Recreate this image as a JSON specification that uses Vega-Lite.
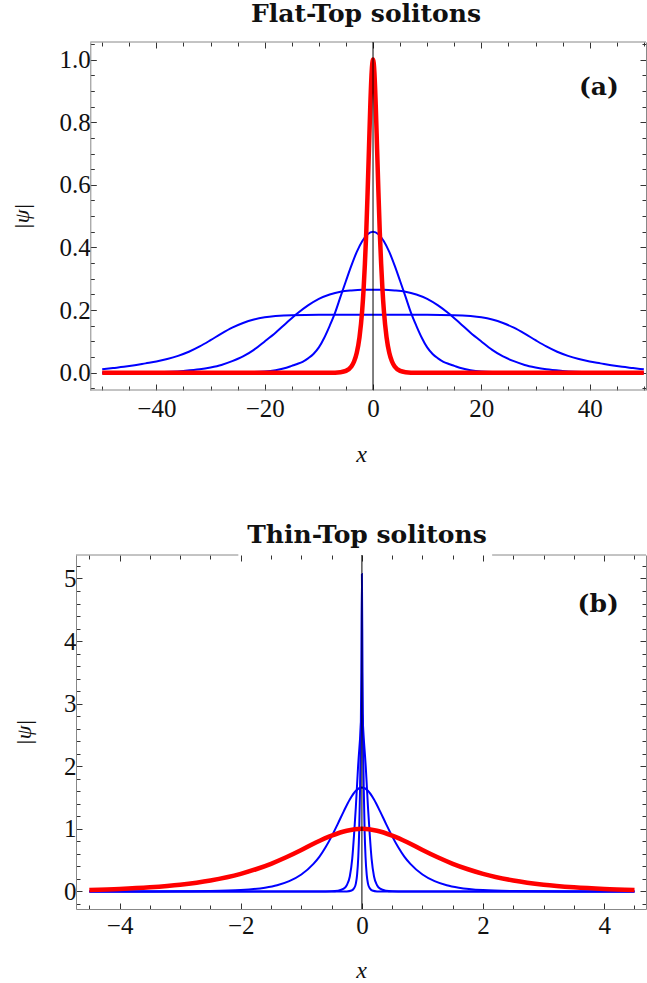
{
  "$schema": "https://vega.github.io/schema/vega-lite/v6.json",
  "background": "white",
  "padding": {"left": 10, "top": 1, "right": 0, "bottom": 6},
  "config": {
    "view": {"stroke": "#888888", "strokeWidth": 1},
    "axis": {
      "grid": false,
      "domainColor": "#888888",
      "domainWidth": 1,
      "tickColor": "#333333",
      "tickWidth": 1,
      "labelFont": "Liberation Serif",
      "labelFontSize": 25,
      "labelColor": "#111111",
      "labelFlush": false,
      "labelOverlap": false,
      "titleFont": "Liberation Serif",
      "titleFontStyle": "italic",
      "titleFontWeight": "normal",
      "titleFontSize": 24,
      "titleColor": "#111111"
    }
  },
  "datasets": {
    "top": [
      {"c": "b1", "x": -50, "y": 0}, {"c": "b1", "x": -40, "y": 0}, {"c": "b1", "x": -30, "y": 0.0002}, {"c": "b1", "x": -25, "y": 0.001},
      {"c": "b1", "x": -20, "y": 0.004}, {"c": "b1", "x": -18, "y": 0.008}, {"c": "b1", "x": -16, "y": 0.016}, {"c": "b1", "x": -15, "y": 0.022},
      {"c": "b1", "x": -14, "y": 0.028}, {"c": "b1", "x": -13, "y": 0.035}, {"c": "b1", "x": -12, "y": 0.046}, {"c": "b1", "x": -11, "y": 0.06},
      {"c": "b1", "x": -10, "y": 0.081}, {"c": "b1", "x": -9, "y": 0.112}, {"c": "b1", "x": -8, "y": 0.15}, {"c": "b1", "x": -7, "y": 0.192},
      {"c": "b1", "x": -6, "y": 0.243}, {"c": "b1", "x": -5, "y": 0.293}, {"c": "b1", "x": -4, "y": 0.342}, {"c": "b1", "x": -3, "y": 0.386},
      {"c": "b1", "x": -2, "y": 0.42}, {"c": "b1", "x": -1, "y": 0.442}, {"c": "b1", "x": 0, "y": 0.45}, {"c": "b1", "x": 1, "y": 0.442},
      {"c": "b1", "x": 2, "y": 0.42}, {"c": "b1", "x": 3, "y": 0.386}, {"c": "b1", "x": 4, "y": 0.342}, {"c": "b1", "x": 5, "y": 0.293},
      {"c": "b1", "x": 6, "y": 0.243}, {"c": "b1", "x": 7, "y": 0.192}, {"c": "b1", "x": 8, "y": 0.15}, {"c": "b1", "x": 9, "y": 0.112},
      {"c": "b1", "x": 10, "y": 0.081}, {"c": "b1", "x": 11, "y": 0.06}, {"c": "b1", "x": 12, "y": 0.046}, {"c": "b1", "x": 13, "y": 0.035},
      {"c": "b1", "x": 14, "y": 0.028}, {"c": "b1", "x": 15, "y": 0.022}, {"c": "b1", "x": 16, "y": 0.016}, {"c": "b1", "x": 18, "y": 0.008},
      {"c": "b1", "x": 20, "y": 0.004}, {"c": "b1", "x": 25, "y": 0.001}, {"c": "b1", "x": 30, "y": 0.0002}, {"c": "b1", "x": 40, "y": 0}, {"c": "b1", "x": 50, "y": 0},

      {"c": "b2", "x": -50, "y": 0}, {"c": "b2", "x": -45, "y": 0.001}, {"c": "b2", "x": -40, "y": 0.002}, {"c": "b2", "x": -35, "y": 0.006},
      {"c": "b2", "x": -32, "y": 0.011}, {"c": "b2", "x": -30, "y": 0.017}, {"c": "b2", "x": -28, "y": 0.025}, {"c": "b2", "x": -26, "y": 0.037},
      {"c": "b2", "x": -24, "y": 0.052}, {"c": "b2", "x": -22, "y": 0.073}, {"c": "b2", "x": -20, "y": 0.1}, {"c": "b2", "x": -18, "y": 0.128},
      {"c": "b2", "x": -16, "y": 0.159}, {"c": "b2", "x": -14, "y": 0.189}, {"c": "b2", "x": -12, "y": 0.215}, {"c": "b2", "x": -10, "y": 0.236},
      {"c": "b2", "x": -8, "y": 0.25}, {"c": "b2", "x": -6, "y": 0.259}, {"c": "b2", "x": -4, "y": 0.263}, {"c": "b2", "x": -2, "y": 0.265},
      {"c": "b2", "x": 0, "y": 0.265}, {"c": "b2", "x": 2, "y": 0.265}, {"c": "b2", "x": 4, "y": 0.263}, {"c": "b2", "x": 6, "y": 0.259},
      {"c": "b2", "x": 8, "y": 0.25}, {"c": "b2", "x": 10, "y": 0.236}, {"c": "b2", "x": 12, "y": 0.215}, {"c": "b2", "x": 14, "y": 0.189},
      {"c": "b2", "x": 16, "y": 0.159}, {"c": "b2", "x": 18, "y": 0.128}, {"c": "b2", "x": 20, "y": 0.1}, {"c": "b2", "x": 22, "y": 0.073},
      {"c": "b2", "x": 24, "y": 0.052}, {"c": "b2", "x": 26, "y": 0.037}, {"c": "b2", "x": 28, "y": 0.025}, {"c": "b2", "x": 30, "y": 0.017},
      {"c": "b2", "x": 32, "y": 0.011}, {"c": "b2", "x": 35, "y": 0.006}, {"c": "b2", "x": 40, "y": 0.002}, {"c": "b2", "x": 45, "y": 0.001}, {"c": "b2", "x": 50, "y": 0},

      {"c": "b3", "x": -50, "y": 0.011}, {"c": "b3", "x": -48, "y": 0.015}, {"c": "b3", "x": -46, "y": 0.019}, {"c": "b3", "x": -44, "y": 0.024},
      {"c": "b3", "x": -42, "y": 0.03}, {"c": "b3", "x": -40, "y": 0.036}, {"c": "b3", "x": -38, "y": 0.044}, {"c": "b3", "x": -36, "y": 0.054},
      {"c": "b3", "x": -34, "y": 0.067}, {"c": "b3", "x": -32, "y": 0.084}, {"c": "b3", "x": -30, "y": 0.104}, {"c": "b3", "x": -28, "y": 0.125},
      {"c": "b3", "x": -26, "y": 0.144}, {"c": "b3", "x": -24, "y": 0.159}, {"c": "b3", "x": -22, "y": 0.17}, {"c": "b3", "x": -20, "y": 0.177},
      {"c": "b3", "x": -18, "y": 0.181}, {"c": "b3", "x": -15, "y": 0.184}, {"c": "b3", "x": -10, "y": 0.185}, {"c": "b3", "x": -5, "y": 0.185},
      {"c": "b3", "x": 0, "y": 0.185}, {"c": "b3", "x": 5, "y": 0.185}, {"c": "b3", "x": 10, "y": 0.185}, {"c": "b3", "x": 15, "y": 0.184},
      {"c": "b3", "x": 18, "y": 0.181}, {"c": "b3", "x": 20, "y": 0.177}, {"c": "b3", "x": 22, "y": 0.17}, {"c": "b3", "x": 24, "y": 0.159},
      {"c": "b3", "x": 26, "y": 0.144}, {"c": "b3", "x": 28, "y": 0.125}, {"c": "b3", "x": 30, "y": 0.104}, {"c": "b3", "x": 32, "y": 0.084},
      {"c": "b3", "x": 34, "y": 0.067}, {"c": "b3", "x": 36, "y": 0.054}, {"c": "b3", "x": 38, "y": 0.044}, {"c": "b3", "x": 40, "y": 0.036},
      {"c": "b3", "x": 42, "y": 0.03}, {"c": "b3", "x": 44, "y": 0.024}, {"c": "b3", "x": 46, "y": 0.019}, {"c": "b3", "x": 48, "y": 0.015}, {"c": "b3", "x": 50, "y": 0.011},

      {"c": "r", "x": -50, "y": 0}, {"c": "r", "x": -40, "y": 0}, {"c": "r", "x": -30, "y": 0}, {"c": "r", "x": -20, "y": 0},
      {"c": "r", "x": -10, "y": 0}, {"c": "r", "x": -8, "y": 0}, {"c": "r", "x": -6, "y": 0.002}, {"c": "r", "x": -5, "y": 0.006},
      {"c": "r", "x": -4, "y": 0.02}, {"c": "r", "x": -3.5, "y": 0.036}, {"c": "r", "x": -3, "y": 0.064}, {"c": "r", "x": -2.5, "y": 0.113},
      {"c": "r", "x": -2, "y": 0.199}, {"c": "r", "x": -1.75, "y": 0.264}, {"c": "r", "x": -1.5, "y": 0.348}, {"c": "r", "x": -1.25, "y": 0.448},
      {"c": "r", "x": -1, "y": 0.576}, {"c": "r", "x": -0.75, "y": 0.715}, {"c": "r", "x": -0.5, "y": 0.855}, {"c": "r", "x": -0.25, "y": 0.96},
      {"c": "r", "x": 0, "y": 1}, {"c": "r", "x": 0.25, "y": 0.96}, {"c": "r", "x": 0.5, "y": 0.855}, {"c": "r", "x": 0.75, "y": 0.715},
      {"c": "r", "x": 1, "y": 0.576}, {"c": "r", "x": 1.25, "y": 0.448}, {"c": "r", "x": 1.5, "y": 0.348}, {"c": "r", "x": 1.75, "y": 0.264},
      {"c": "r", "x": 2, "y": 0.199}, {"c": "r", "x": 2.5, "y": 0.113}, {"c": "r", "x": 3, "y": 0.064}, {"c": "r", "x": 3.5, "y": 0.036},
      {"c": "r", "x": 4, "y": 0.02}, {"c": "r", "x": 5, "y": 0.006}, {"c": "r", "x": 6, "y": 0.002}, {"c": "r", "x": 8, "y": 0},
      {"c": "r", "x": 10, "y": 0}, {"c": "r", "x": 20, "y": 0}, {"c": "r", "x": 30, "y": 0}, {"c": "r", "x": 40, "y": 0}, {"c": "r", "x": 50, "y": 0}
    ],
    "bottom": [
      {"c": "A", "x": -4.5, "y": 0}, {"c": "A", "x": -4, "y": 0}, {"c": "A", "x": -3, "y": 0.002}, {"c": "A", "x": -2.5, "y": 0.006},
      {"c": "A", "x": -2, "y": 0.022}, {"c": "A", "x": -1.6, "y": 0.061}, {"c": "A", "x": -1.4, "y": 0.1}, {"c": "A", "x": -1.2, "y": 0.165},
      {"c": "A", "x": -1, "y": 0.271}, {"c": "A", "x": -0.8, "y": 0.441}, {"c": "A", "x": -0.7, "y": 0.557}, {"c": "A", "x": -0.6, "y": 0.706},
      {"c": "A", "x": -0.5, "y": 0.88}, {"c": "A", "x": -0.4, "y": 1.076}, {"c": "A", "x": -0.3, "y": 1.28}, {"c": "A", "x": -0.2, "y": 1.47},
      {"c": "A", "x": -0.1, "y": 1.61}, {"c": "A", "x": 0, "y": 1.66}, {"c": "A", "x": 0.1, "y": 1.61}, {"c": "A", "x": 0.2, "y": 1.47},
      {"c": "A", "x": 0.3, "y": 1.28}, {"c": "A", "x": 0.4, "y": 1.076}, {"c": "A", "x": 0.5, "y": 0.88}, {"c": "A", "x": 0.6, "y": 0.706},
      {"c": "A", "x": 0.7, "y": 0.557}, {"c": "A", "x": 0.8, "y": 0.441}, {"c": "A", "x": 1, "y": 0.271}, {"c": "A", "x": 1.2, "y": 0.165},
      {"c": "A", "x": 1.4, "y": 0.1}, {"c": "A", "x": 1.6, "y": 0.061}, {"c": "A", "x": 2, "y": 0.022}, {"c": "A", "x": 2.5, "y": 0.006},
      {"c": "A", "x": 3, "y": 0.002}, {"c": "A", "x": 4, "y": 0}, {"c": "A", "x": 4.5, "y": 0},

      {"c": "B", "x": -4.5, "y": 0}, {"c": "B", "x": -3, "y": 0}, {"c": "B", "x": -2, "y": 0}, {"c": "B", "x": -1, "y": 0},
      {"c": "B", "x": -0.7, "y": 0}, {"c": "B", "x": -0.5, "y": 0.003}, {"c": "B", "x": -0.4, "y": 0.012}, {"c": "B", "x": -0.3, "y": 0.045},
      {"c": "B", "x": -0.25, "y": 0.1}, {"c": "B", "x": -0.2, "y": 0.24}, {"c": "B", "x": -0.16, "y": 0.52}, {"c": "B", "x": -0.13, "y": 0.9},
      {"c": "B", "x": -0.1, "y": 1.35}, {"c": "B", "x": -0.063, "y": 2.0}, {"c": "B", "x": -0.03, "y": 2.45}, {"c": "B", "x": 0, "y": 2.88},
      {"c": "B", "x": 0.03, "y": 2.45}, {"c": "B", "x": 0.063, "y": 2.0}, {"c": "B", "x": 0.1, "y": 1.35}, {"c": "B", "x": 0.13, "y": 0.9},
      {"c": "B", "x": 0.16, "y": 0.52}, {"c": "B", "x": 0.2, "y": 0.24}, {"c": "B", "x": 0.25, "y": 0.1}, {"c": "B", "x": 0.3, "y": 0.045},
      {"c": "B", "x": 0.4, "y": 0.012}, {"c": "B", "x": 0.5, "y": 0.003}, {"c": "B", "x": 0.7, "y": 0}, {"c": "B", "x": 1, "y": 0},
      {"c": "B", "x": 2, "y": 0}, {"c": "B", "x": 3, "y": 0}, {"c": "B", "x": 4.5, "y": 0},

      {"c": "C", "x": -4.5, "y": 0}, {"c": "C", "x": -3, "y": 0}, {"c": "C", "x": -2, "y": 0}, {"c": "C", "x": -1, "y": 0},
      {"c": "C", "x": -0.5, "y": 0}, {"c": "C", "x": -0.25, "y": 0.001}, {"c": "C", "x": -0.17, "y": 0.015}, {"c": "C", "x": -0.13, "y": 0.05},
      {"c": "C", "x": -0.1, "y": 0.126}, {"c": "C", "x": -0.08, "y": 0.26}, {"c": "C", "x": -0.06, "y": 0.55}, {"c": "C", "x": -0.045, "y": 0.96},
      {"c": "C", "x": -0.03, "y": 1.67}, {"c": "C", "x": -0.02, "y": 2.41}, {"c": "C", "x": -0.01, "y": 3.5}, {"c": "C", "x": 0, "y": 5.07},
      {"c": "C", "x": 0.01, "y": 3.5}, {"c": "C", "x": 0.02, "y": 2.41}, {"c": "C", "x": 0.03, "y": 1.67}, {"c": "C", "x": 0.045, "y": 0.96},
      {"c": "C", "x": 0.06, "y": 0.55}, {"c": "C", "x": 0.08, "y": 0.26}, {"c": "C", "x": 0.1, "y": 0.126}, {"c": "C", "x": 0.13, "y": 0.05},
      {"c": "C", "x": 0.17, "y": 0.015}, {"c": "C", "x": 0.25, "y": 0.001}, {"c": "C", "x": 0.5, "y": 0}, {"c": "C", "x": 1, "y": 0},
      {"c": "C", "x": 2, "y": 0}, {"c": "C", "x": 3, "y": 0}, {"c": "C", "x": 4.5, "y": 0},

      {"c": "r", "x": -4.5, "y": 0.025}, {"c": "r", "x": -4, "y": 0.041}, {"c": "r", "x": -3.5, "y": 0.067}, {"c": "r", "x": -3, "y": 0.108},
      {"c": "r", "x": -2.5, "y": 0.176}, {"c": "r", "x": -2, "y": 0.282}, {"c": "r", "x": -1.75, "y": 0.355}, {"c": "r", "x": -1.5, "y": 0.442},
      {"c": "r", "x": -1.25, "y": 0.546}, {"c": "r", "x": -1, "y": 0.662}, {"c": "r", "x": -0.75, "y": 0.787}, {"c": "r", "x": -0.5, "y": 0.893},
      {"c": "r", "x": -0.25, "y": 0.971}, {"c": "r", "x": 0, "y": 1}, {"c": "r", "x": 0.25, "y": 0.971}, {"c": "r", "x": 0.5, "y": 0.893},
      {"c": "r", "x": 0.75, "y": 0.787}, {"c": "r", "x": 1, "y": 0.662}, {"c": "r", "x": 1.25, "y": 0.546}, {"c": "r", "x": 1.5, "y": 0.442},
      {"c": "r", "x": 1.75, "y": 0.355}, {"c": "r", "x": 2, "y": 0.282}, {"c": "r", "x": 2.5, "y": 0.176}, {"c": "r", "x": 3, "y": 0.108},
      {"c": "r", "x": 3.5, "y": 0.067}, {"c": "r", "x": 4, "y": 0.041}, {"c": "r", "x": 4.5, "y": 0.025}
    ]
  },
  "vconcat": [
    {
      "width": 570,
      "height": 348,
      "view": {"stroke": null},
      "title": {"text": "Flat-Top solitons", "font": "DejaVu Serif", "fontSize": 25, "fontWeight": "bold", "color": "#111111", "frame": "group", "anchor": "middle", "offset": 5, "dx": 5},
      "data": {"name": "top"},
      "layer": [
        {
          "transform": [{"filter": "datum.c !== 'r'"}],
          "mark": {"type": "line", "color": "#0000ff", "strokeWidth": 2, "interpolate": "monotone", "clip": true},
          "encoding": {
            "x": {"field": "x", "type": "quantitative", "scale": {"domain": [-54.84, 50.4], "nice": false, "zero": false},
              "axis": {"orient": "bottom", "title": "x", "titlePadding": 19, "domain": false,
                "values": [-50, -45, -40, -35, -30, -25, -20, -15, -10, -5, 0, 5, 10, 15, 20, 25, 30, 35, 40, 45, 50],
                "labelExpr": "round(datum.value) % 20 === 0 ? format(datum.value, 'd') : ''",
                "tickSize": {"condition": {"test": "round(datum.value) % 20 === 0", "value": -6}, "value": -4},
                "labelPadding": 12}},
            "y": {"field": "y", "type": "quantitative", "scale": {"domain": [-0.055, 1.056], "nice": false, "zero": false},
              "axis": {"orient": "left", "offset": -14.3, "title": "|ψ|", "titleFontSize": 22, "titlePadding": 26,
                "values": [-0.05, 0, 0.05, 0.1, 0.15, 0.2, 0.25, 0.3, 0.35, 0.4, 0.45, 0.5, 0.55, 0.6, 0.65, 0.7, 0.75, 0.8, 0.85, 0.9, 0.95, 1, 1.05],
                "labelExpr": "round(datum.value * 100) % 20 === 0 ? format(datum.value, '.1f') : ''",
                "tickSize": {"condition": {"test": "round(datum.value * 100) % 20 === 0", "value": -6}, "value": -4},
                "labelPadding": 6}},
            "detail": {"field": "c"}
          }
        },
        {
          "transform": [{"filter": "datum.c === 'r'"}],
          "mark": {"type": "line", "color": "#ff0000", "strokeWidth": 4.5, "interpolate": "monotone", "clip": true},
          "encoding": {
            "x": {"field": "x", "type": "quantitative", "scale": {"domain": [-54.84, 50.4], "nice": false, "zero": false},
              "axis": {"orient": "top", "title": null, "labels": false, "domain": false,
                "values": [-50, -45, -40, -35, -30, -25, -20, -15, -10, -5, 0, 5, 10, 15, 20, 25, 30, 35, 40, 45, 50],
                "tickSize": {"condition": {"test": "round(datum.value) % 20 === 0", "value": -6}, "value": -4}}},
            "y": {"field": "y", "type": "quantitative", "scale": {"domain": [-0.055, 1.056], "nice": false, "zero": false},
              "axis": {"orient": "right", "title": null, "labels": false,
                "values": [-0.05, 0, 0.05, 0.1, 0.15, 0.2, 0.25, 0.3, 0.35, 0.4, 0.45, 0.5, 0.55, 0.6, 0.65, 0.7, 0.75, 0.8, 0.85, 0.9, 0.95, 1, 1.05],
                "tickSize": {"condition": {"test": "round(datum.value * 100) % 20 === 0", "value": -6}, "value": -4}}}
          }
        },
        {
          "data": {"values": [{"x1": -52.2, "x2": 50.4, "yv": -0.055}, {"x1": -52.2, "x2": 50.4, "yv": 1.056}]},
          "mark": {"type": "rule", "color": "#888888", "strokeWidth": 1},
          "encoding": {
            "x": {"field": "x1", "type": "quantitative", "axis": null},
            "x2": {"field": "x2"},
            "y": {"field": "yv", "type": "quantitative", "axis": null}
          }
        },
        {
          "data": {"values": [{"x0": 0}]},
          "mark": {"type": "rule", "color": "#000000", "strokeWidth": 1},
          "encoding": {"x": {"field": "x0", "type": "quantitative", "axis": null}}
        },
        {
          "data": {"values": [{"lbl": "(a)", "x": 41.7, "y": 0.913}]},
          "mark": {"type": "text", "font": "DejaVu Serif", "fontWeight": "bold", "fontSize": 25, "color": "#111111", "align": "center", "baseline": "middle"},
          "encoding": {
            "x": {"field": "x", "type": "quantitative", "axis": null},
            "y": {"field": "y", "type": "quantitative", "axis": null},
            "text": {"field": "lbl"}
          }
        }
      ],
      "resolve": {"axis": {"x": "independent", "y": "independent"}}
    },
    {
      "width": 570,
      "height": 354,
      "view": {"stroke": null},
      "title": {"text": "Thin-Top solitons", "font": "DejaVu Serif", "fontSize": 25, "fontWeight": "bold", "color": "#111111", "frame": "group", "anchor": "middle", "offset": 6, "dx": 6},
      "data": {"name": "bottom"},
      "layer": [
        {
          "transform": [{"filter": "datum.c !== 'r'"}],
          "mark": {"type": "line", "color": "#0000ff", "strokeWidth": 2, "interpolate": "monotone", "clip": true},
          "encoding": {
            "x": {"field": "x", "type": "quantitative", "scale": {"domain": [-4.72, 4.69], "nice": false, "zero": false},
              "axis": {"orient": "bottom", "title": "x", "titlePadding": 18,
                "values": [-4.5, -4, -3.5, -3, -2.5, -2, -1.5, -1, -0.5, 0, 0.5, 1, 1.5, 2, 2.5, 3, 3.5, 4, 4.5],
                "labelExpr": "round(datum.value * 10) % 20 === 0 ? format(datum.value, 'd') : ''",
                "tickSize": {"condition": {"test": "round(datum.value * 10) % 20 === 0", "value": -6}, "value": -4},
                "labelPadding": 10}},
            "y": {"field": "y", "type": "quantitative", "scale": {"domain": [-0.28, 5.375], "nice": false, "zero": false},
              "axis": {"orient": "left", "title": "|ψ|", "titleFontSize": 22, "titlePadding": 28,
                "values": [-0.2, 0, 0.2, 0.4, 0.6, 0.8, 1, 1.2, 1.4, 1.6, 1.8, 2, 2.2, 2.4, 2.6, 2.8, 3, 3.2, 3.4, 3.6, 3.8, 4, 4.2, 4.4, 4.6, 4.8, 5, 5.2],
                "labelExpr": "round(datum.value * 10) % 10 === 0 ? format(datum.value, 'd') : ''",
                "tickSize": {"condition": {"test": "round(datum.value * 10) % 10 === 0", "value": -6}, "value": -4},
                "labelPadding": 6}},
            "detail": {"field": "c"}
          }
        },
        {
          "transform": [{"filter": "datum.c === 'r'"}],
          "mark": {"type": "line", "color": "#ff0000", "strokeWidth": 4.5, "interpolate": "monotone", "clip": true},
          "encoding": {
            "x": {"field": "x", "type": "quantitative", "scale": {"domain": [-4.72, 4.69], "nice": false, "zero": false},
              "axis": {"orient": "top", "title": null, "labels": false, "domain": false,
                "values": [-4.5, -4, -3.5, -3, -2.5, -2, -1.5, -1, -0.5, 0, 0.5, 1, 1.5, 2, 2.5, 3, 3.5, 4, 4.5],
                "tickSize": {"condition": {"test": "round(datum.value * 10) % 20 === 0", "value": -6}, "value": -4}}},
            "y": {"field": "y", "type": "quantitative", "scale": {"domain": [-0.28, 5.375], "nice": false, "zero": false},
              "axis": {"orient": "right", "title": null, "labels": false,
                "values": [-0.2, 0, 0.2, 0.4, 0.6, 0.8, 1, 1.2, 1.4, 1.6, 1.8, 2, 2.2, 2.4, 2.6, 2.8, 3, 3.2, 3.4, 3.6, 3.8, 4, 4.2, 4.4, 4.6, 4.8, 5, 5.2],
                "tickSize": {"condition": {"test": "round(datum.value * 10) % 10 === 0", "value": -6}, "value": -4}}}
          }
        },
        {
          "data": {"values": [{"x1": -4.72, "x2": -2.04, "yv": 5.375}, {"x1": 2.15, "x2": 4.69, "yv": 5.375}]},
          "mark": {"type": "rule", "color": "#888888", "strokeWidth": 1},
          "encoding": {
            "x": {"field": "x1", "type": "quantitative", "axis": null},
            "x2": {"field": "x2"},
            "y": {"field": "yv", "type": "quantitative", "axis": null}
          }
        },
        {
          "data": {"values": [{"x0": 0}]},
          "mark": {"type": "rule", "color": "#000000", "strokeWidth": 1},
          "encoding": {"x": {"field": "x0", "type": "quantitative", "axis": null}}
        },
        {
          "data": {"values": [{"lbl": "(b)", "x": 3.9, "y": 4.6}]},
          "mark": {"type": "text", "font": "DejaVu Serif", "fontWeight": "bold", "fontSize": 25, "color": "#111111", "align": "center", "baseline": "middle"},
          "encoding": {
            "x": {"field": "x", "type": "quantitative", "axis": null},
            "y": {"field": "y", "type": "quantitative", "axis": null},
            "text": {"field": "lbl"}
          }
        }
      ],
      "resolve": {"axis": {"x": "independent", "y": "independent"}}
    }
  ],
  "spacing": 56
}
